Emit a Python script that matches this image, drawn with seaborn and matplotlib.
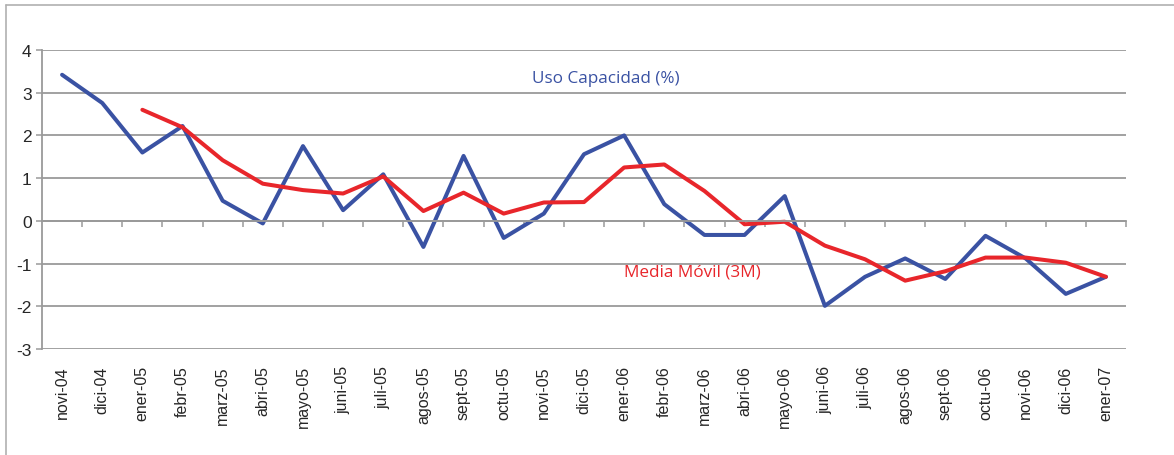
import matplotlib.pyplot as plt
import numpy as np
import pandas as pd
import seaborn as sns
from matplotlib.lines import Line2D
from matplotlib.ticker import FixedLocator, MultipleLocator

months = ['novi-04', 'dici-04', 'ener-05', 'febr-05', 'marz-05', 'abri-05', 'mayo-05',
          'juni-05', 'juli-05', 'agos-05', 'sept-05', 'octu-05', 'novi-05', 'dici-05',
          'ener-06', 'febr-06', 'marz-06', 'abri-06', 'mayo-06', 'juni-06', 'juli-06',
          'agos-06', 'sept-06', 'octu-06', 'novi-06', 'dici-06', 'ener-07']

uso_capacidad = [3.42, 2.76, 1.60, 2.22, 0.47, -0.06, 1.75, 0.25, 1.09, -0.61, 1.52,
                 -0.40, 0.17, 1.56, 2.00, 0.39, -0.33, -0.33, 0.58, -1.99, -1.31,
                 -0.88, -1.36, -0.35, -0.88, -1.71, -1.31]

media_movil = [np.nan, np.nan, 2.60, 2.19, 1.42, 0.87, 0.72, 0.64, 1.04, 0.23, 0.66,
               0.17, 0.43, 0.44, 1.25, 1.32, 0.70, -0.08, -0.02, -0.58, -0.90,
               -1.40, -1.18, -0.86, -0.86, -0.98, -1.31]

BLUE = '#3a52a3'
RED = '#e8262b'
GRID = '#9a9a9a'

df = pd.DataFrame({'idx': np.arange(len(months)), 'mes': months,
                   'Uso Capacidad (%)': uso_capacidad,
                   'Media Móvil (3M)': media_movil})
long_df = df.melt(id_vars=['idx', 'mes'], var_name='serie', value_name='valor').dropna()

sns.set_style('white')
plt.rcParams['font.family'] = ['Liberation Sans', 'DejaVu Sans']
plt.rcParams['axes.unicode_minus'] = False

fig = plt.figure(figsize=(11.74, 4.56), dpi=100)
ax = fig.add_axes([42 / 1174, 106 / 456, 1084 / 1174, 299 / 456])

sns.lineplot(data=long_df, x='idx', y='valor', hue='serie',
             palette={'Uso Capacidad (%)': BLUE, 'Media Móvil (3M)': RED},
             hue_order=['Uso Capacidad (%)', 'Media Móvil (3M)'],
             linewidth=2.9, sort=False, legend=False, ax=ax)

n = len(months)
ax.set_xlim(-0.5, n - 0.5)
ax.set_ylim(-3, 4)
ax.yaxis.set_major_locator(MultipleLocator(1))
ax.set_xlabel('')
ax.set_ylabel('')

# gridlines
ax.grid(axis='y', color=GRID, linewidth=1.3)
ax.grid(axis='x', visible=False)
ax.set_axisbelow(True)

# spines: x axis at zero, y axis on the left
for side in ['top', 'right']:
    ax.spines[side].set_visible(False)
ax.spines['bottom'].set_position(('data', 0))
ax.spines['bottom'].set_color(GRID)
ax.spines['bottom'].set_linewidth(1.3)
ax.spines['left'].set_color(GRID)
ax.spines['left'].set_linewidth(1.3)

# category labels sit below the plot, tick marks between categories on the zero line
ax.xaxis.set_major_locator(FixedLocator(df['idx']))
ax.set_xticklabels(months, rotation=90, fontsize=11.5)
ax.xaxis.set_minor_locator(FixedLocator(np.arange(n) + 0.5))
ax.tick_params(axis='x', which='major', bottom=True, length=0, pad=104)
ax.tick_params(axis='x', which='minor', bottom=True, length=4.5, width=1.1, color=GRID, direction='out')
ax.tick_params(axis='y', left=True, length=4.5, width=1.1, color=GRID, direction='out', labelsize=12.5, pad=3)

ax.text(0.52, 0.905, 'Uso Capacidad (%)', transform=ax.transAxes, color=BLUE,
        fontsize=12.3, family=['Open Sans', 'DejaVu Sans'], ha='center', va='center')
ax.text(0.60, 0.258, 'Media Móvil (3M)', transform=ax.transAxes, color=RED,
        fontsize=12.3, family=['Open Sans', 'DejaVu Sans'], ha='center', va='center')

# outer chart frame (top and left edges visible)
fig.add_artist(Line2D([6 / 1174, 1.0], [1 - 6 / 456, 1 - 6 / 456], color='#b0b0b0', linewidth=1.2))
fig.add_artist(Line2D([6 / 1174, 6 / 1174], [0.0, 1 - 6 / 456], color='#b0b0b0', linewidth=1.2))

fig.savefig('out.png', dpi=100)
